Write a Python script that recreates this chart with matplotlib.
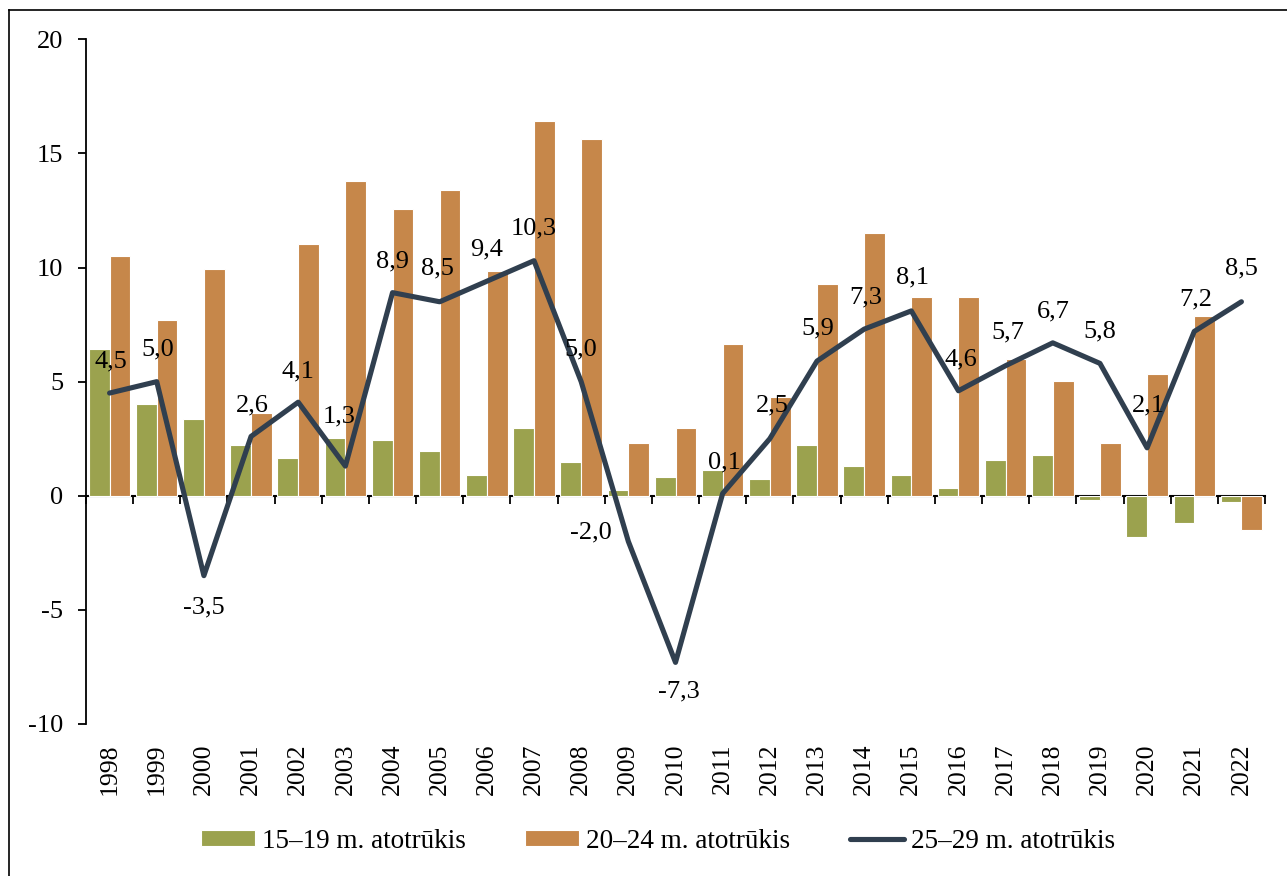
import matplotlib
matplotlib.use("Agg")
import matplotlib.pyplot as plt
from matplotlib.lines import Line2D
import numpy as np

years = [str(y) for y in range(1998, 2023)]
gap_15_19 = [6.45, 4.03, 3.36, 2.24, 1.67, 2.52, 2.43, 1.95, 0.92, 2.99, 1.48, 0.26, 0.82,
             1.12, 0.73, 2.23, 1.29, 0.92, 0.35, 1.57, 1.78, -0.18, -1.79, -1.21, -0.29]
gap_20_24 = [10.49, 7.68, 9.92, 3.64, 11.05, 13.78, 12.56, 13.39, 9.83, 16.40, 15.63, 2.33, 2.99,
             6.64, 4.31, 9.26, 11.52, 8.70, 8.70, 6.00, 5.04, 2.33, 5.34, 7.87, -1.51]
gap_25_29 = [4.5, 5.0, -3.5, 2.6, 4.1, 1.3, 8.9, 8.5, 9.4, 10.3, 5.0, -2.0, -7.3,
             0.1, 2.5, 5.9, 7.3, 8.1, 4.6, 5.7, 6.7, 5.8, 2.1, 7.2, 8.5]
series_names = ["15\u201319 m. atotr\u016bkis", "20\u201324 m. atotr\u016bkis", "25\u201329 m. atotr\u016bkis"]

# label offsets (pixels) relative to the line points
label_offsets = [(1, 32), (1, 32), (0, -32), (1, 31), (0, 31), (-6, 50), (0, 31), (-2, 33),
                 (0, 32), (0, 32), (0, 32), (-37, 9), (3, -29), (2, 31), (2, 33), (1, 33),
                 (2, 32), (1, 33), (2, 31), (2, 33), (1, 31), (0, 32), (1, 42), (1, 32), (0, 33)]

C_GREEN = "#9BA24E"
C_ORANGE = "#C6874A"
C_LINE = "#303F4F"

plt.rcParams['font.family'] = ['Liberation Serif', 'DejaVu Serif']

fig = plt.figure(figsize=(12.87, 8.76), dpi=100)
ax = fig.add_axes([86 / 1287, 1 - 724 / 876, (1265 - 86) / 1287, (724 - 39.3) / 876])

x = np.arange(len(years))
w = 0.44
b1 = ax.bar(x - w / 2, gap_15_19, width=w, color=C_GREEN, edgecolor='white', linewidth=0.8,
            label=series_names[0], zorder=2)
b2 = ax.bar(x + w / 2, gap_20_24, width=w, color=C_ORANGE, edgecolor='white', linewidth=0.8,
            label=series_names[1], zorder=2)
l3, = ax.plot(x, gap_25_29, color=C_LINE, linewidth=3.7, solid_joinstyle='round',
              solid_capstyle='round', label=series_names[2], zorder=3)

for xi, v, (dx, dy) in zip(x, gap_25_29, label_offsets):
    ax.annotate(f"{v:.1f}".replace('.', ','), (xi, v), xytext=(dx, dy),
                textcoords='offset pixels', ha='center', va='center',
                fontsize=19, color='black', zorder=4)

ax.set_xlim(-0.5, len(years) - 0.5)
ax.set_ylim(-10, 20)
ax.set_yticks([-10, -5, 0, 5, 10, 15, 20])
ax.set_yticklabels(['-10', '-5', '0', '5', '10', '15', '20'])
ax.tick_params(axis='y', direction='out', length=5.5, width=1.3, pad=11, labelsize=19)

ax.set_xticks(x)
ax.set_xticklabels(years, rotation=90, va='top', ha='center')
ax.tick_params(axis='x', length=0, pad=14, labelsize=18.5)

for s in ['top', 'right', 'bottom']:
    ax.spines[s].set_visible(False)
ax.spines['left'].set_linewidth(1.3)

# zero line with category boundary ticks
sec = ax.secondary_xaxis(10 / 30)
sec.set_xticks(np.arange(-0.5, len(years), 1.0))
sec.xaxis.set_ticks_position('bottom')
sec.tick_params(axis='x', direction='out', length=5.5, width=1.3, labelbottom=False, labeltop=False)
sec.spines['bottom'].set_linewidth(1.5)
sec.spines['top'].set_visible(False)

fig.legend(handles=[b1, b2, l3], labels=series_names,
           loc='center', bbox_to_anchor=(0.511, 1 - 841 / 876), ncol=3, frameon=False,
           fontsize=19.5, handlelength=2.0, handleheight=0.55, handletextpad=0.25,
           columnspacing=2.2)

# outer border
fig.add_artist(Line2D([9 / 1287, 9 / 1287], [0, 1 - 10 / 876], transform=fig.transFigure,
                      color='black', linewidth=1.2))
fig.add_artist(Line2D([9 / 1287, 1], [1 - 10 / 876, 1 - 10 / 876], transform=fig.transFigure,
                      color='black', linewidth=1.2))

fig.savefig("out.png", dpi=100)
